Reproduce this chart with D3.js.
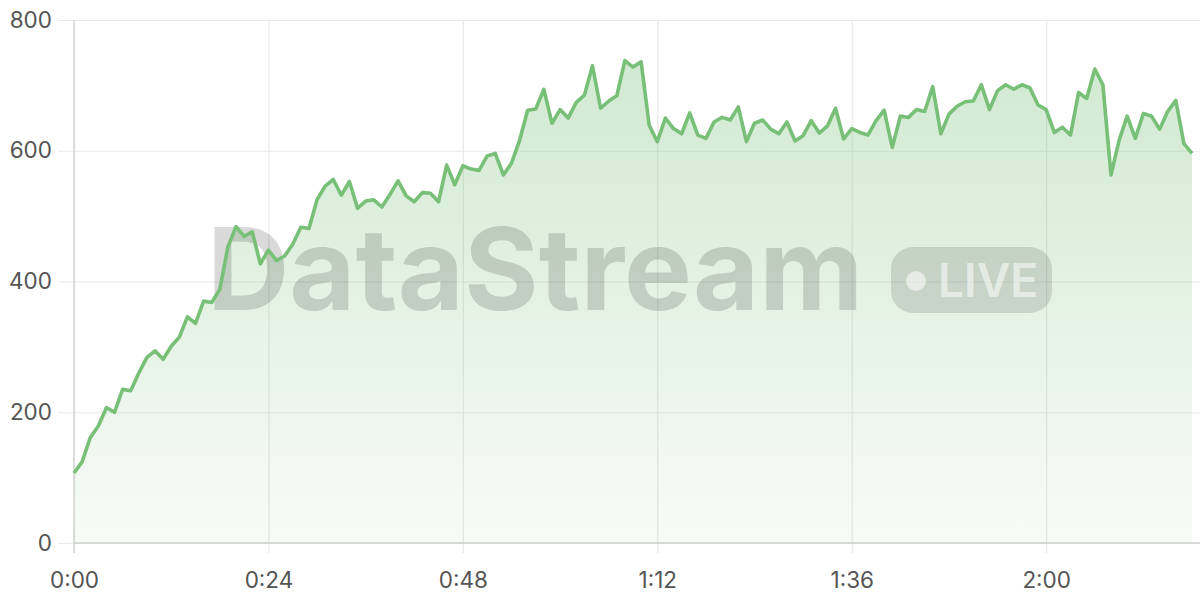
<!DOCTYPE html>
<html>
<head>
<meta charset="utf-8">
<script src="https://cdn.jsdelivr.net/npm/d3@7"></script>
<style>
  html, body { margin: 0; padding: 0; background: #fff; }
  svg { display: block; font-family: Inter, "Noto Sans", sans-serif; }
</style>
</head>
<body>
<svg id="chart" width="1200" height="600"></svg>
<script>
// ---- data ----
const seconds = d3.range(0, 139); // one sample per second, 0:00 .. 2:18
const values = [
  107, 124, 161, 179, 207, 200, 235, 233, 260, 284,
  294, 281, 301, 315, 346, 336, 370, 368, 388, 453,
  484, 469, 476, 427, 448, 432, 439, 457, 483, 481,
  525, 546, 556, 532, 553, 512, 523, 525, 514, 533,
  554, 531, 522, 536, 535, 522, 578, 548, 577, 572,
  570, 592, 596, 563, 581, 616, 662, 664, 694, 642,
  663, 650, 674, 685, 730, 665, 676, 684, 738, 728,
  736, 639, 614, 650, 634, 626, 658, 624, 619, 644,
  651, 647, 667, 614, 642, 647, 633, 626, 644, 615,
  623, 646, 627, 638, 665, 618, 634, 628, 624, 646,
  662, 605, 653, 651, 663, 660, 698, 626, 656, 668,
  675, 676, 701, 663, 692, 701, 694, 701, 696, 670,
  663, 628, 636, 624, 689, 680, 725, 701, 563, 616,
  653, 619, 657, 653, 633, 660, 677, 611, 596
];
const xTicks = [0, 24, 48, 72, 96, 120];
const yTicks = [0, 200, 400, 600, 800];
const watermarkText = "DataStream";
const badgeText = "LIVE";

// ---- layout ----
const svg = d3.select("#chart");
const x = d3.scaleLinear().domain([0, 138]).range([74, 1192]);
const y = d3.scaleLinear().domain([0, 800]).range([543, 20]);
const data = seconds.map((s, i) => ({ s, v: values[i] }));
const fmt = s => Math.floor(s / 60) + ":" + String(s % 60).padStart(2, "0");

const lineColor = "#78bf78";

// gradient
const defs = svg.append("defs");
const grad = defs.append("linearGradient")
  .attr("id", "areaGrad").attr("gradientUnits", "userSpaceOnUse")
  .attr("x1", 0).attr("x2", 0).attr("y1", y(740)).attr("y2", y(0));
grad.append("stop").attr("offset", "0%").attr("stop-color", lineColor).attr("stop-opacity", 0.34);
grad.append("stop").attr("offset", "100%").attr("stop-color", lineColor).attr("stop-opacity", 0.06);

// horizontal grid
const gy = svg.append("g").attr("class", "y-axis")
  .attr("transform", "translate(1200,0)")
  .call(d3.axisLeft(y).tickValues(yTicks).tickSize(1142).tickPadding(6).tickFormat(d3.format("d")));
gy.select(".domain").remove();
gy.selectAll(".tick line").attr("stroke", "#e9e9e9").attr("stroke-width", 1.2);
gy.selectAll(".tick text").attr("fill", "#555").attr("font-size", 22.5)
  .attr("font-family", "Inter, sans-serif");

// vertical grid
const gx = svg.append("g").attr("class", "x-axis")
  .attr("transform", "translate(0,553)")
  .call(d3.axisBottom(x).tickValues(xTicks).tickSize(-533).tickPadding(19).tickFormat(fmt));
gx.select(".domain").remove();
gx.selectAll(".tick line").attr("stroke", "#e9e9e9").attr("stroke-width", 1.2);
gx.selectAll(".tick text").attr("fill", "#555").attr("font-size", 22.5)
  .attr("font-family", "Inter, sans-serif");

// y axis line
svg.append("line").attr("x1", x(0)).attr("x2", x(0)).attr("y1", y(800)).attr("y2", 553)
  .attr("stroke", "#d6d6d6").attr("stroke-width", 1.5);

// area
const area = d3.area().x(d => x(d.s)).y0(y(0)).y1(d => y(d.v));
svg.append("path").datum(data).attr("d", area).attr("fill", "url(#areaGrad)");

// baseline
svg.append("line").attr("x1", x(0)).attr("x2", 1200).attr("y1", y(0)).attr("y2", y(0))
  .attr("stroke", "#cfcfcf").attr("stroke-width", 1.5);

// watermark
const wm = svg.append("g").attr("class", "watermark");
wm.append("text").attr("x", 207).attr("y", 310)
  .attr("font-family", "Inter, sans-serif").attr("font-weight", 700).attr("font-size", 114)
  .attr("fill", "rgba(0,0,0,0.15)")
  .text(watermarkText);
wm.append("rect").attr("x", 891).attr("y", 247).attr("width", 161).attr("height", 66)
  .attr("rx", 22).attr("fill", "rgba(0,0,0,0.12)");
wm.append("circle").attr("cx", 916).attr("cy", 281).attr("r", 10)
  .attr("fill", "rgba(255,255,255,0.55)");
wm.append("text").attr("x", 938).attr("y", 297)
  .attr("font-family", "Inter, sans-serif").attr("font-weight", 600).attr("font-size", 46)
  .attr("fill", "rgba(255,255,255,0.55)")
  .text(badgeText);

// line
const line = d3.line().x(d => x(d.s)).y(d => y(d.v));
svg.append("path").datum(data).attr("d", line).attr("fill", "none")
  .attr("stroke", lineColor).attr("stroke-width", 3.6).attr("stroke-linejoin", "round");
</script>
</body>
</html>
